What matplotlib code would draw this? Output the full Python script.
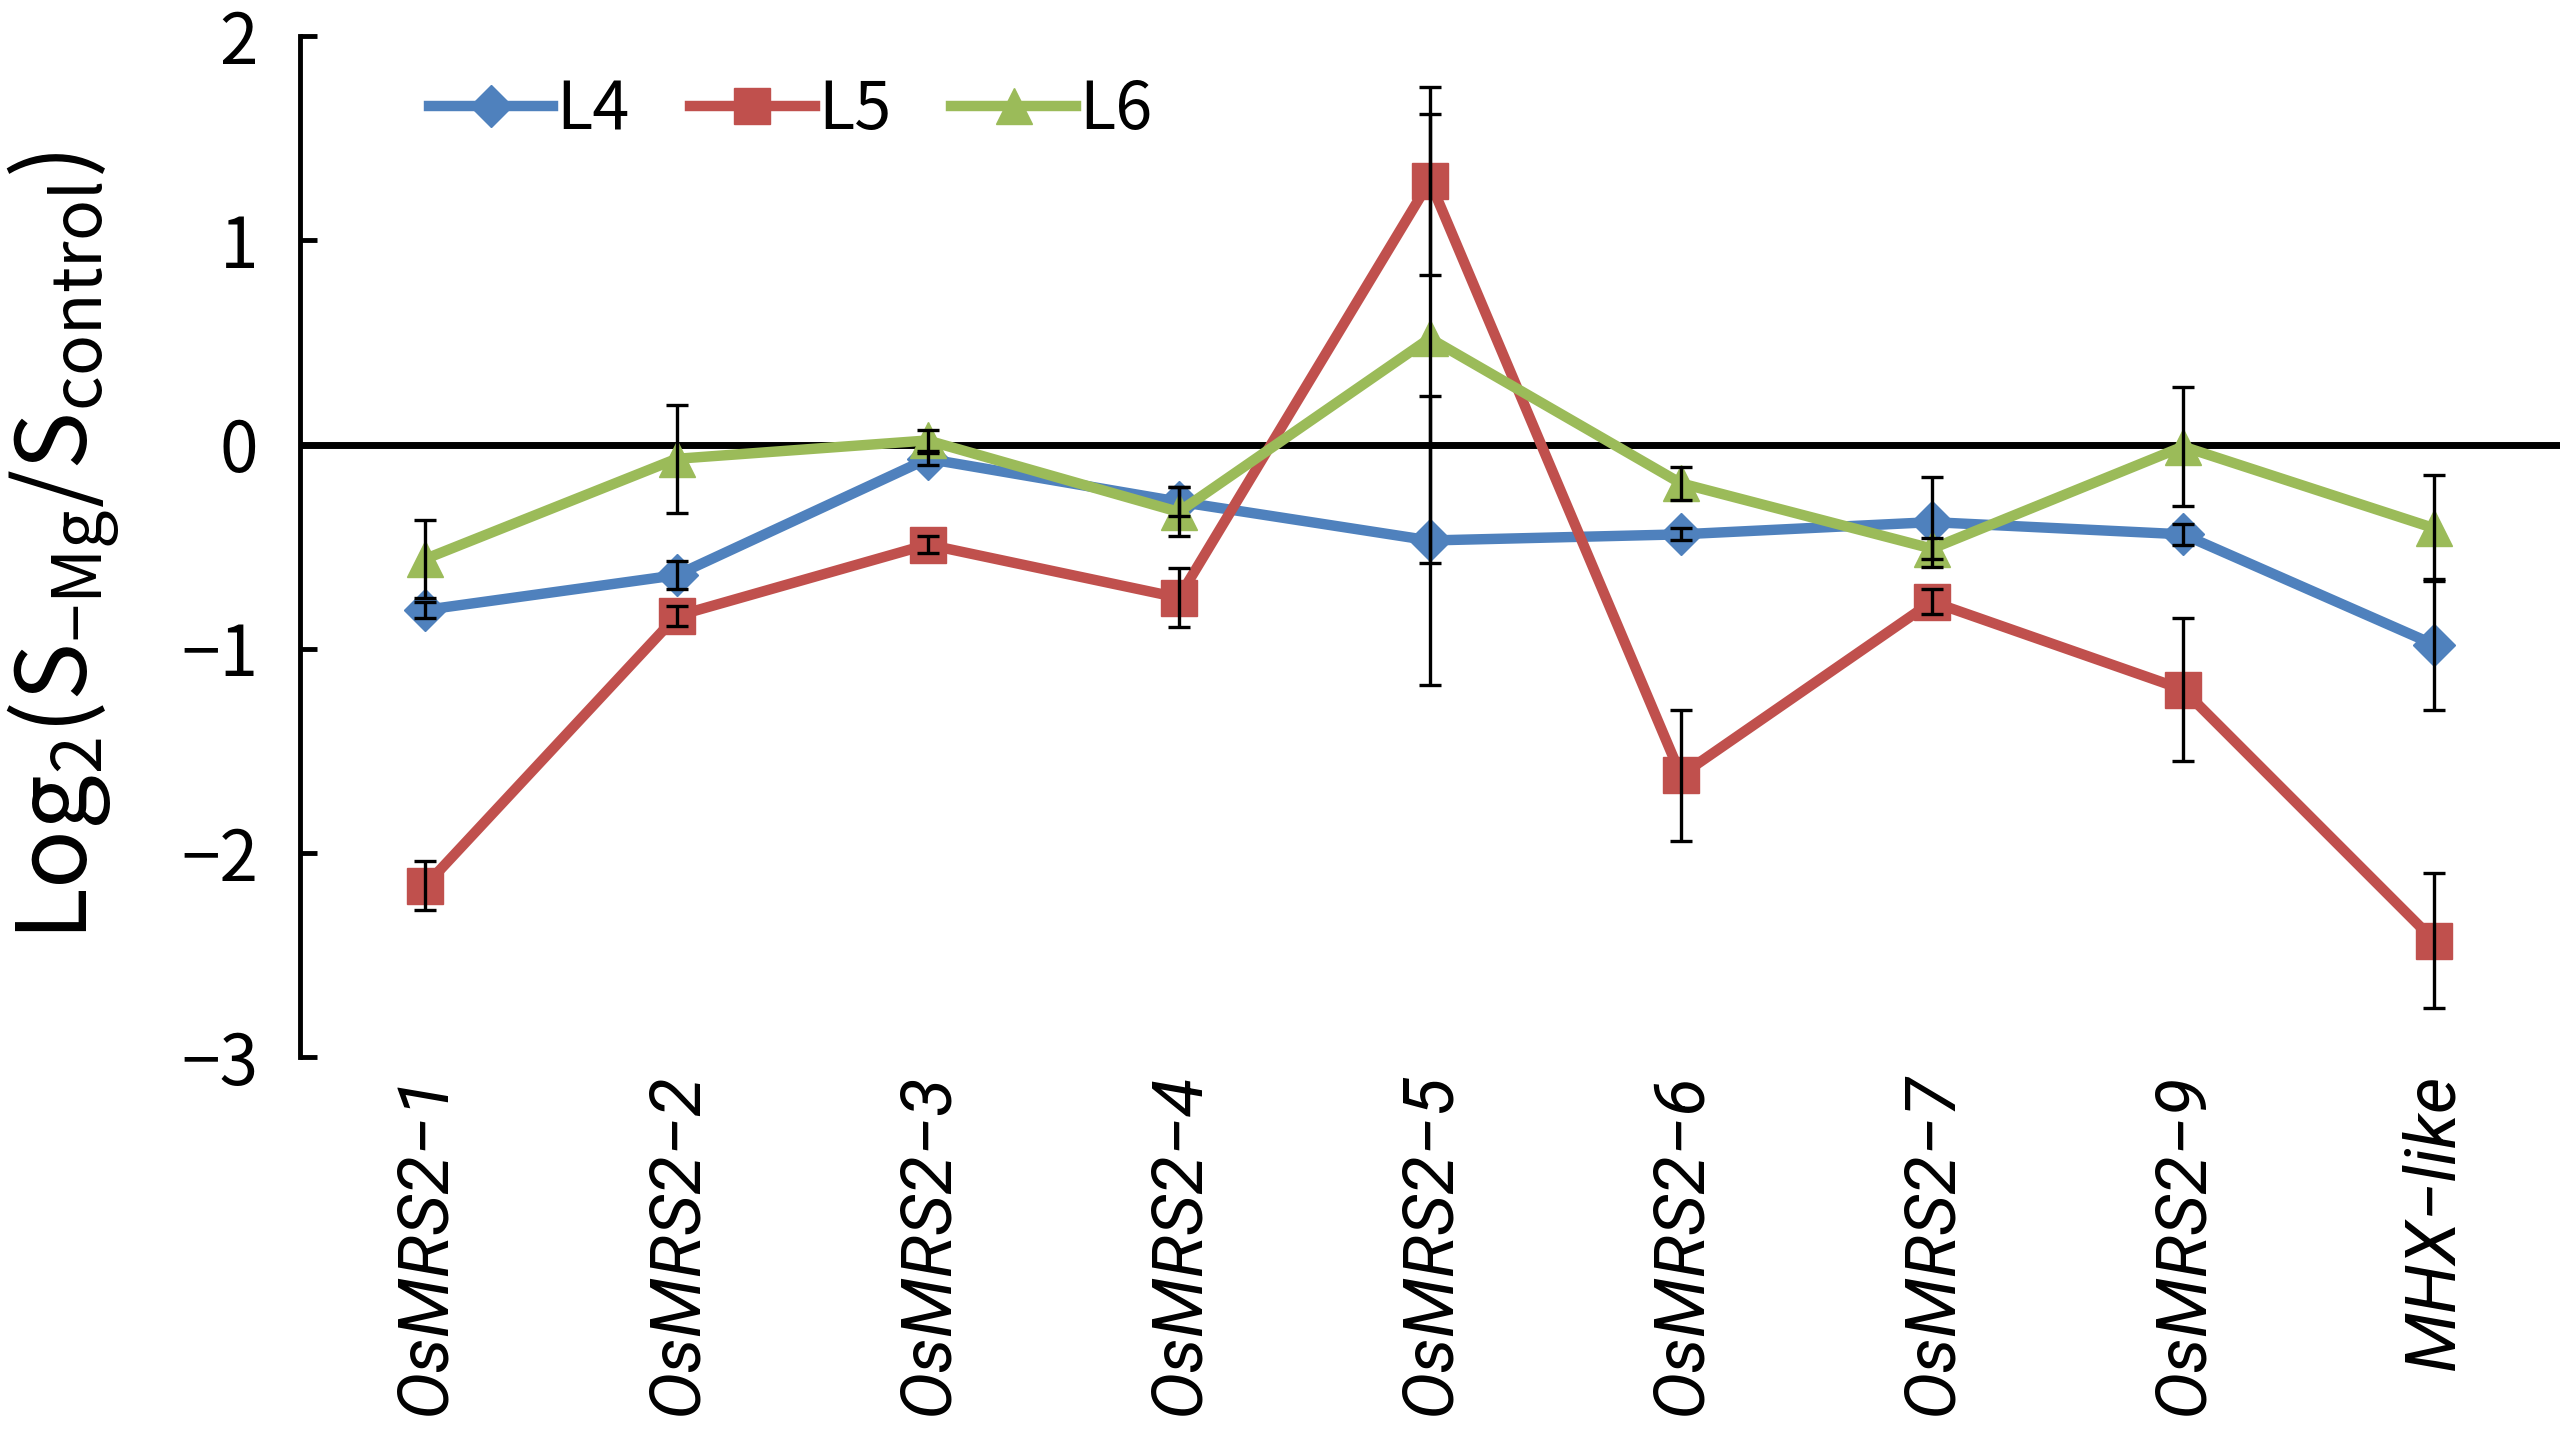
import matplotlib
matplotlib.use('Agg')
import matplotlib.pyplot as plt
import numpy as np

plt.rcParams['font.family'] = ['Noto Sans CJK JP', 'DejaVu Sans']
plt.rcParams['mathtext.fontset'] = 'custom'
plt.rcParams['mathtext.rm'] = 'Noto Sans CJK JP'
plt.rcParams['mathtext.it'] = 'Noto Sans CJK JP'

genes = ['OsMRS2\u22121', 'OsMRS2\u22122', 'OsMRS2\u22123', 'OsMRS2\u22124', 'OsMRS2\u22125',
         'OsMRS2\u22126', 'OsMRS2\u22127', 'OsMRS2\u22129', 'MHX\u2212like']

L4 = [-0.81, -0.64, -0.07, -0.28, -0.47, -0.44, -0.38, -0.44, -0.98]
L4_err = [0.04, 0.07, 0.03, 0.07, 0.71, 0.03, 0.22, 0.05, 0.32]
L5 = [-2.16, -0.84, -0.49, -0.75, 1.29, -1.62, -0.77, -1.20, -2.43]
L5_err = [0.12, 0.05, 0.04, 0.145, 0.46, 0.32, 0.06, 0.35, 0.33]
L6 = [-0.56, -0.07, 0.02, -0.33, 0.52, -0.19, -0.51, -0.01, -0.41]
L6_err = [0.19, 0.265, 0.05, 0.12, 1.10, 0.08, 0.05, 0.29, 0.26]

series = [('L4', L4, L4_err, '#4F81BD', 'D', 21),
          ('L5', L5, L5_err, '#C0504D', 's', 26),
          ('L6', L6, L6_err, '#9BBB59', '^', 26)]

fig = plt.figure(figsize=(25.7, 14.47), dpi=100)
ax = fig.add_axes([0.1167, 0.2695, 0.8793, 0.7055])

x = np.arange(len(genes))
for name, vals, err, col, mk, ms in series:
    ax.plot(x, vals, color=col, lw=7.5, marker=mk, markersize=ms, label=name, zorder=3)
for name, vals, err, col, mk, ms in series:
    ax.errorbar(x, vals, yerr=err, fmt='none', ecolor='black', elinewidth=2.4,
                capsize=8, capthick=2.4, zorder=4)

ax.axhline(0, color='black', lw=5, zorder=2)

ax.set_xlim(-0.5, len(genes) - 0.5)
ax.set_ylim(-3, 2)
ax.set_yticks([-3, -2, -1, 0, 1, 2])
ax.set_xticks(x)
ax.set_xticklabels(genes, rotation=90, fontstyle='italic', fontsize=51,
                   family=['Roboto', 'DejaVu Sans'])
ax.tick_params(axis='x', length=0, pad=12)
ax.tick_params(axis='y', direction='in', length=12, width=3.5, labelsize=50, pad=30)

for s in ['top', 'right', 'bottom']:
    ax.spines[s].set_visible(False)
ax.spines['left'].set_linewidth(3.5)

ax.set_ylabel(r'Log$_2$(S$_{\mathrm{-Mg}}$/S$_{\mathrm{control}}$)', fontsize=70, labelpad=42)

ax.legend(loc='center left', bbox_to_anchor=(0.057, 0.927), ncol=3, frameon=False,
          fontsize=48, handlelength=1.87, handletextpad=0.05, columnspacing=0.9,
          borderpad=0, borderaxespad=0)

fig.savefig('out.png', dpi=100)
